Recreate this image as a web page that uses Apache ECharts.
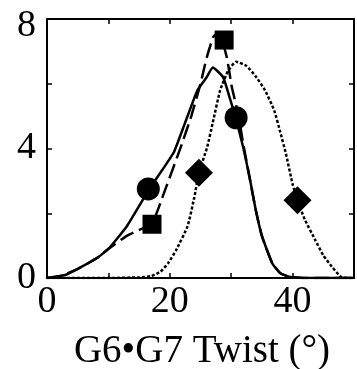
<!DOCTYPE html>
<html><head><meta charset="utf-8">
<script src="https://cdn.jsdelivr.net/npm/echarts@6/dist/echarts.min.js"></script>
<style>html,body{margin:0;padding:0;background:#fff}#c{width:357px;height:369px}</style>
</head><body><div id="c"></div>
<script>
const xTicks = [0, 20, 40];
const yTicks = [0, 4, 8];
const axisTitle = 'G6•G7 Twist (°)';
const solidLine = [[0,0],[2,0.06],[3.1,0.1],[5,0.28],[8,0.6],[10,0.9],[13,1.6],[16.5,2.7],[19,3.4],[20.7,3.9],[22.5,4.8],[24.5,5.8],[26,6.2],[27,6.5],[28.7,6.2],[29.7,5.6],[30.8,4.9],[32,4.0],[33,3.1],[34,2.1],[35,1.3],[36.7,0.45],[38,0.15],[39.4,0.04],[42,0],[50,0]];
const dashedLine = [[0,0],[2,0.05],[4.7,0.25],[8,0.6],[10,0.9],[13,1.3],[17.1,1.7],[19,2.6],[21.8,4.05],[23.5,5.0],[25,6.0],[26,6.8],[27.1,7.45],[28,7.6],[29.3,6.8],[30.1,5.9],[31.1,5.1],[32,4.1],[33,3.1],[34,2.1],[35,1.3],[36.7,0.45],[38,0.15],[39.4,0.04],[42,0],[50,0]];
const dottedLine = [[0,0],[10,0],[15,0.02],[17,0.06],[18.5,0.2],[19.7,0.45],[21,0.85],[22.9,1.6],[24,2.5],[24.75,3.25],[26.1,4.05],[27,4.8],[28.2,5.8],[29.5,6.4],[30.8,6.68],[32.5,6.55],[34.1,6.2],[35.5,5.8],[37,5.18],[38,4.5],[38.9,3.85],[40,2.9],[40.8,2.4],[42,1.8],[43.7,1.17],[45,0.7],[46.4,0.35],[48,0.02],[50,0]];
const circlePts = [[16.5,2.75],[30.8,4.95]];
const squarePts = [[17.1,1.66],[28.85,7.35]];
const diamondPts = [[24.75,3.25],[40.8,2.4]];

const FONT = "'Liberation Serif','Times New Roman',serif";
const chart = echarts.init(document.getElementById('c'), null, {renderer:'canvas'});
const lineCommon = {type:'line', showSymbol:false, symbol:'none', animation:false, silent:true, smooth:0.15};
const axisBase = {type:'value', min:0, axisLine:{show:true, onZero:false, lineStyle:{color:'#000', width:2}},
  axisTick:{show:true, inside:true, length:5, lineStyle:{color:'#000', width:1.5}}, splitLine:{show:false}};
const markStyle = {color:'#000', opacity:1};
chart.setOption({
  animation:false,
  backgroundColor:'#fff',
  title:{text:axisTitle, left:197, top:327, textAlign:'center',
    textStyle:{fontFamily:FONT, fontSize:39, fontWeight:'normal', color:'#000'}},
  grid:{left:47, top:19, bottom:91, right:-2.5},
  xAxis:[
    Object.assign({}, axisBase, {max:50, interval:10, position:'bottom',
      axisLabel:{margin:5, fontFamily:FONT, fontSize:38, color:'#000',
        formatter:v => xTicks.includes(v) ? String(v) : ''}}),
    Object.assign({}, axisBase, {max:50, interval:10, position:'top', axisLabel:{show:false}})
  ],
  yAxis:[
    Object.assign({}, axisBase, {max:8, interval:2, position:'left',
      axisLabel:{margin:11, fontFamily:FONT, fontSize:38, color:'#000',
        formatter:v => !yTicks.includes(v) ? '' : (v === 8 ? '{top|' + v + '}' : String(v)),
        rich:{top:{fontFamily:FONT, fontSize:38, color:'#000', padding:[14,0,0,0]}}}}),
    Object.assign({}, axisBase, {max:8, interval:2, position:'right', axisLabel:{show:false}})
  ],
  series:[
    Object.assign({}, lineCommon, {data:dottedLine, lineStyle:{color:'#000', width:2.5, type:[3,2]}}),
    Object.assign({}, lineCommon, {data:solidLine, lineStyle:{color:'#000', width:2.5}}),
    Object.assign({}, lineCommon, {data:dashedLine, lineStyle:{color:'#000', width:2.5, type:[15,6]}}),
    {type:'scatter', data:circlePts, symbol:'circle', symbolSize:23, itemStyle:markStyle, silent:true},
    {type:'scatter', data:squarePts, symbol:'rect', symbolSize:19, itemStyle:markStyle, silent:true},
    {type:'scatter', data:diamondPts, symbol:'diamond', symbolSize:[28,28], itemStyle:markStyle, silent:true}
  ]
});
</script></body></html>
